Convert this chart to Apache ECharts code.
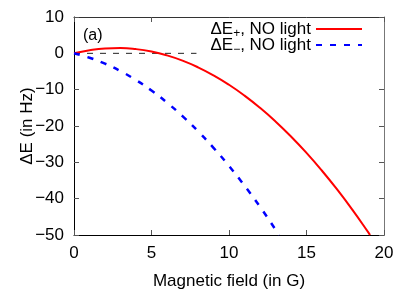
<!DOCTYPE html>
<html><head><meta charset="utf-8">
<script src="https://cdn.jsdelivr.net/npm/echarts@6/dist/echarts.min.js"></script>
<style>html,body{margin:0;padding:0;background:#fff}#c{width:415px;height:291px}</style>
</head><body><div id="c"></div>
<script>
const fieldPlus = [0,1,2,3,4,5,6,7,8,9,10,11,12,13,14,15,16,17,18,19,19.1];
const dEPlus = [0,0.87,1.35,1.45,1.16,0.49,-0.57,-2.01,-3.84,-6.05,-8.65,-11.63,-15.0,-18.75,-22.89,-27.41,-32.32,-37.61,-43.29,-49.35,-50];
const fieldMinus = [0,1,2,3,4,5,6,7,8,9,10,11,12,13,13.23];
const dEMinus = [0,-1.21,-2.84,-4.89,-7.36,-10.25,-13.56,-17.29,-21.44,-26.01,-31.0,-36.41,-42.24,-48.49,-50];
const zeroField = [0,20];
const zeroVal = [0,0];
const xTicks = [0,5,10,15,20];
const yTicks = [-50,-40,-30,-20,-10,0,10];
const FONT = 'Liberation Sans, Arial, sans-serif';

const chart = echarts.init(document.getElementById('c'), null, {renderer:'canvas'});
const zip = (a,b) => a.map((v,i)=>[v,b[i]]);
const tickCommon = {show:true, inside:true, length:5, lineStyle:{color:'#555', width:1}};
const legendText = {fontSize:17, color:'#000', fontFamily:FONT, lineHeight:22,
  rich:{s:{fontSize:12, lineHeight:12, fontFamily:FONT, color:'#000', verticalAlign:'bottom'}}};
const legendFmt = n => n==='plus' ? '\u0394E{s|+}, NO light' : '\u0394E{s|\u2212}, NO light';
chart.setOption({
  animation:false,
  backgroundColor:'#fff',
  grid:{left:74, right:31, top:17, bottom:56, containLabel:false, outerBoundsMode:'none'},
  xAxis:[{
    type:'value', min:xTicks[0], max:xTicks[xTicks.length-1], interval:5,
    axisLine:{show:true, onZero:false, lineStyle:{color:'#000', width:1}},
    axisTick:tickCommon, splitLine:{show:false},
    axisLabel:{fontSize:17, color:'#000', fontFamily:FONT, margin:10},
    name:'Magnetic field (in G)', nameLocation:'middle', nameGap:38, nameMoveOverlap:false,
    nameTextStyle:{fontSize:17, color:'#000', fontFamily:FONT}
  },{
    type:'value', position:'top', min:0, max:20, interval:5,
    axisLine:{show:true, onZero:false, lineStyle:{color:'#333', width:1}},
    axisTick:tickCommon, axisLabel:{show:false}, splitLine:{show:false}
  }],
  yAxis:[{
    type:'value', min:yTicks[0], max:yTicks[yTicks.length-1], interval:10,
    axisLine:{show:true, onZero:false, lineStyle:{color:'#000', width:1}},
    axisTick:tickCommon, splitLine:{show:false},
    axisLabel:{fontSize:17, color:'#000', fontFamily:FONT, margin:10,
      formatter:v=>String(v).replace('-','\u2212')},
    name:'\u0394E (in Hz)', nameLocation:'middle', nameGap:38, nameMoveOverlap:false,
    nameTextStyle:{fontSize:17, color:'#000', fontFamily:FONT}
  },{
    type:'value', position:'right', min:-50, max:10, interval:10,
    axisLine:{show:true, onZero:false, lineStyle:{color:'#777', width:1}},
    axisTick:tickCommon, axisLabel:{show:false}, splitLine:{show:false}
  }],
  legend:[{
    orient:'vertical', right:31, top:18, align:'right',
    itemWidth:46, itemHeight:14,
    backgroundColor:'#fff', padding:[0,21,18,14],
    itemStyle:{opacity:0}, data:['plus'], formatter:legendFmt, textStyle:legendText
  },{
    orient:'vertical', right:31, top:34, align:'right',
    itemWidth:46, itemHeight:14,
    padding:[0,21,0,14],
    itemStyle:{opacity:0}, data:['minus'], formatter:legendFmt, textStyle:legendText
  }],
  graphic:[{type:'text', left:83, top:28, style:{text:'(a)', fontSize:16, fontFamily:FONT, fill:'#000'}}],
  series:[
    {name:'zero', type:'line', data:zip(zeroField,zeroVal), showSymbol:false, symbol:'none',
     lineStyle:{color:'#222', width:1, type:[6,7]}, z:1, silent:true},
    {name:'plus', type:'line', data:zip(fieldPlus,dEPlus), smooth:true, showSymbol:false, symbol:'none',
     itemStyle:{color:'#ff0000'}, lineStyle:{color:'#ff0000', width:2}, z:3},
    {name:'minus', type:'line', data:zip(fieldMinus,dEMinus), smooth:true, showSymbol:false, symbol:'none',
     itemStyle:{color:'#0000ff'}, lineStyle:{color:'#0000ff', width:2.5, type:[6,8]}, z:3}
  ]
});
</script></body></html>
